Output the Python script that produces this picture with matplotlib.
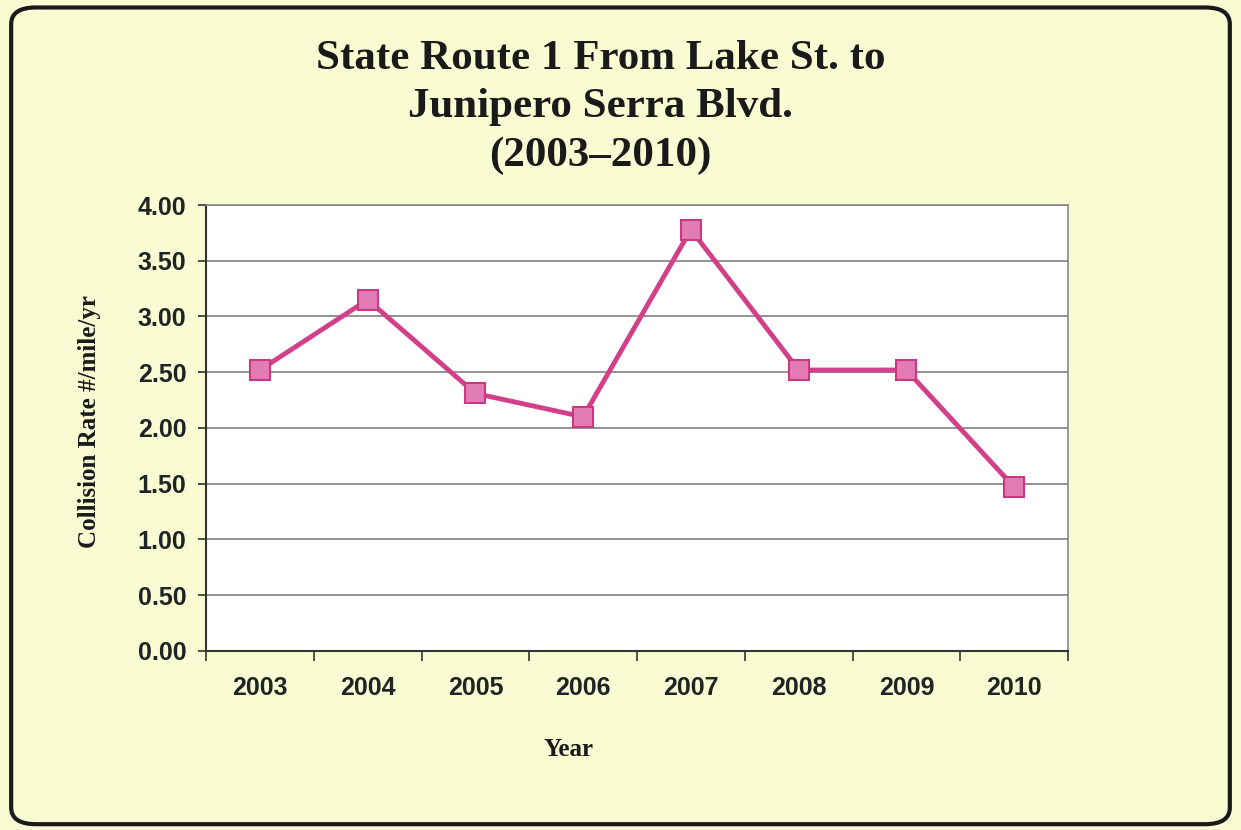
import matplotlib.pyplot as plt
import numpy as np
from matplotlib.patches import FancyBboxPatch

years = ['2003', '2004', '2005', '2006', '2007', '2008', '2009', '2010']
rates = [2.52, 3.15, 2.31, 2.10, 3.78, 2.52, 2.52, 1.47]
y_ticks = [0.0, 0.5, 1.0, 1.5, 2.0, 2.5, 3.0, 3.5, 4.0]

bg = '#f9fcd2'
fig = plt.figure(figsize=(12.41, 8.30), dpi=100)
fig.patch.set_facecolor(bg)

# rounded frame around the whole chart
frame = FancyBboxPatch((0.009, 0.007), 0.982, 0.984,
                       boxstyle='round,pad=0,rounding_size=0.02',
                       transform=fig.transFigure, facecolor='none',
                       edgecolor='#1a1a1a', linewidth=3, zorder=-1)
fig.patches.append(frame)

ax = fig.add_axes([0.166, 0.2157, 0.6946, 0.5373], zorder=2)
ax.set_facecolor('white')

x = np.arange(len(years))
ax.plot(x, rates, color='#d2408a', linewidth=3.5, marker='s', markersize=14,
        markerfacecolor='#e27cb4', markeredgecolor='#c9397f', markeredgewidth=1.5,
        zorder=3)

ax.set_xlim(-0.5, len(years) - 0.5)
ax.set_ylim(0, 4)
ax.set_yticks(y_ticks)
ax.set_yticklabels(['%.2f' % v for v in y_ticks])
ax.yaxis.grid(True, color='#808080', linewidth=1.2)
ax.set_axisbelow(True)

# category labels centred, tick marks on the boundaries
ax.set_xticks(np.arange(-0.5, len(years)), minor=False)
ax.set_xticklabels([])
ax.set_xticks(x, minor=True)
ax.set_xticklabels(years, minor=True)
ax.tick_params(axis='x', which='major', direction='out', length=7, width=1.2, color='#333333')
ax.tick_params(axis='x', which='minor', length=0, pad=18)
ax.tick_params(axis='y', direction='out', length=6, width=1.2, color='#333333', pad=8)

for lab in ax.get_xticklabels(minor=True) + ax.get_yticklabels():
    lab.set_fontfamily('Liberation Sans')
    lab.set_fontweight('bold')
    lab.set_fontsize(18)
    lab.set_color('#1f2424')

for side in ['left', 'bottom']:
    ax.spines[side].set_color('#333333')
    ax.spines[side].set_linewidth(1.5)
for side in ['top', 'right']:
    ax.spines[side].set_color('#888888')
    ax.spines[side].set_linewidth(1.2)

fig.text(0.0725, 0.4916, 'Collision Rate #/mile/yr', rotation=90, ha='center', va='center',
         fontfamily='Liberation Serif', fontweight='bold', fontsize=18, color='#1a1a1a')
fig.text(0.4577, 0.0964, 'Year', ha='center', va='center',
         fontfamily='Liberation Serif', fontweight='bold', fontsize=18, color='#1a1a1a')

fig.text(0.484, 0.871, 'State Route 1 From Lake St. to\nJunipero Serra Blvd.\n(2003\u20132010)',
         ha='center', va='center', fontfamily='Liberation Serif', fontweight='bold',
         fontsize=31, color='#1a1a1a', linespacing=1.35)

plt.savefig('out.png', dpi=100, facecolor=bg)
